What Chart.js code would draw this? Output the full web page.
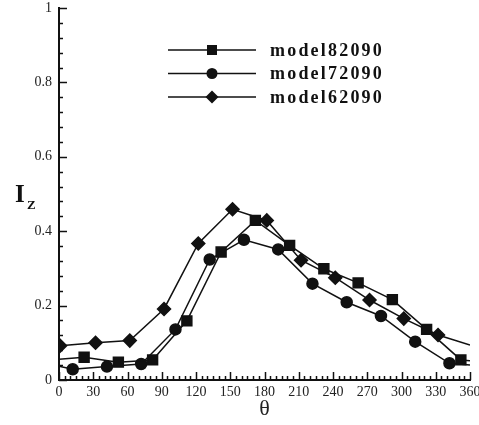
<!DOCTYPE html>
<html>
<head>
<meta charset="utf-8">
<script src="https://cdn.jsdelivr.net/npm/chart.js@4.4.1/dist/chart.umd.min.js"></script>
<style>
    html, body { margin: 0; padding: 0; background: #fff; }
    #wrap { width: 479px; height: 425px; position: relative; }
</style>
</head>
<body>
<div id="wrap"><canvas id="chart"></canvas></div>
<script>
// Data
const seriesNames = ['model82090', 'model72090', 'model62090'];

const theta82090 = [0, 22, 52, 82, 112, 142, 172, 202, 232, 262, 292, 322, 352, 360];
const iz82090 = [0.056, 0.061, 0.048, 0.054, 0.159, 0.344, 0.429, 0.362, 0.299, 0.261, 0.216, 0.136, 0.054, 0.052];

const theta72090 = [0, 12, 42, 72, 102, 132, 162, 192, 222, 252, 282, 312, 342, 360];
const iz72090 = [0.037, 0.029, 0.036, 0.043, 0.136, 0.324, 0.377, 0.351, 0.259, 0.209, 0.172, 0.103, 0.045, 0.040];

const theta62090 = [1, 32, 62, 92, 122, 152, 182, 212, 242, 272, 302, 332, 360];
const iz62090 = [0.092, 0.100, 0.106, 0.191, 0.367, 0.459, 0.429, 0.322, 0.275, 0.215, 0.165, 0.121, 0.094];

const xTicks = [0, 30, 60, 90, 120, 150, 180, 210, 240, 270, 300, 330, 360];
const yTicks = [0, 0.2, 0.4, 0.6, 0.8, 1];

const serif = "'Liberation Serif', 'DejaVu Serif', serif";

function toPoints(xs, ys) {
    return xs.map((x, i) => ({ x: x, y: ys[i] }));
}

// hide markers on the end points that only carry the line to the axis edge
function radii(xs, r) {
    return xs.map(x => (x === 0 || x === 360) ? 0 : r);
}

// inward tick marks, major and minor
const innerTicks = {
    id: 'innerTicks',
    afterDraw(chart) {
        const ctx = chart.ctx;
        const xs = chart.scales.x, ys = chart.scales.y;
        const area = chart.chartArea;
        ctx.save();
        ctx.strokeStyle = '#111';
        ctx.lineWidth = 1.5;
        for (let v = 0; v <= 360; v += 5) {
            const px = Math.round(xs.getPixelForValue(v)) + 0.5;
            const len = v % 30 === 0 ? 8 : 4;
            ctx.beginPath();
            ctx.moveTo(px, area.bottom);
            ctx.lineTo(px, area.bottom - len);
            ctx.stroke();
        }
        for (let i = 0; i <= 25; i++) {
            const v = i * 0.04;
            const py = Math.round(ys.getPixelForValue(v)) + 0.5;
            const len = i % 5 === 0 ? 8 : 4;
            ctx.beginPath();
            ctx.moveTo(area.left, py);
            ctx.lineTo(area.left + len, py);
            ctx.stroke();
        }
        ctx.restore();
    }
};

function drawMarker(ctx, style, x, y) {
    ctx.beginPath();
    if (style === 'rect') {
        ctx.rect(x - 5, y - 5, 10, 10);
    } else if (style === 'circle') {
        ctx.arc(x, y, 5.5, 0, Math.PI * 2);
    } else {
        ctx.moveTo(x, y - 6.5);
        ctx.lineTo(x + 6.5, y);
        ctx.lineTo(x, y + 6.5);
        ctx.lineTo(x - 6.5, y);
        ctx.closePath();
    }
    ctx.fill();
}

// legend inside the plot and the I_Z axis label
const extras = {
    id: 'extras',
    afterDraw(chart) {
        const ctx = chart.ctx;
        ctx.save();
        ctx.fillStyle = '#111';
        ctx.strokeStyle = '#111';
        ctx.lineWidth = 1.5;
        chart.data.datasets.forEach((ds, i) => {
            const y = 50 + i * 23.5;
            ctx.beginPath();
            ctx.moveTo(168, y);
            ctx.lineTo(256, y);
            ctx.stroke();
            drawMarker(ctx, ds.pointStyle, 212, y);
            ctx.font = 'bold 18px ' + serif;
            ctx.letterSpacing = '2.2px';
            ctx.textBaseline = 'middle';
            ctx.fillText(ds.label, 270, y + 1);
        });
        ctx.letterSpacing = '0px';
        ctx.font = 'bold 25px ' + serif;
        ctx.textBaseline = 'alphabetic';
        ctx.fillText('I', 15, 202);
        ctx.font = 'bold 13px ' + serif;
        ctx.fillText('Z', 27, 209);
        ctx.restore();
    }
};

const lineStyle = {
    showLine: true,
    borderColor: '#111',
    backgroundColor: '#111',
    pointBackgroundColor: '#111',
    pointBorderColor: '#111',
    borderWidth: 1.5,
    tension: 0
};

new Chart(document.getElementById('chart'), {
    type: 'scatter',
    data: {
        datasets: [
            Object.assign({}, lineStyle, {
                label: seriesNames[0],
                data: toPoints(theta82090, iz82090),
                pointStyle: 'rect',
                pointRadius: radii(theta82090, 7)
            }),
            Object.assign({}, lineStyle, {
                label: seriesNames[1],
                data: toPoints(theta72090, iz72090),
                pointStyle: 'circle',
                pointRadius: radii(theta72090, 5.5)
            }),
            Object.assign({}, lineStyle, {
                label: seriesNames[2],
                data: toPoints(theta62090, iz62090),
                pointStyle: 'rectRot',
                pointRadius: radii(theta62090, 6.5)
            })
        ]
    },
    options: {
        responsive: true,
        maintainAspectRatio: false,
        animation: false,
        layout: { padding: { top: 8, right: 9, left: 0, bottom: 0 } },
        plugins: {
            legend: { display: false },
            tooltip: { enabled: false }
        },
        scales: {
            x: {
                type: 'linear',
                min: 0,
                max: 360,
                afterBuildTicks: (scale) => { scale.ticks = xTicks.map(v => ({ value: v })); },
                afterFit: (scale) => {
                    scale.height = 45;
                    scale.paddingLeft = 0;
                    scale.paddingRight = 0;
                },
                grid: { display: false, drawTicks: false },
                border: { display: true, color: '#111', width: 2 },
                ticks: {
                    padding: 4,
                    maxRotation: 0,
                    autoSkip: false,
                    color: '#222',
                    font: { family: serif, size: 14 },
                    callback: (v) => String(v)
                },
                title: {
                    display: true,
                    text: 'θ',
                    color: '#222',
                    padding: { top: 0, bottom: 3 },
                    font: { family: serif, size: 22 }
                }
            },
            y: {
                type: 'linear',
                min: 0,
                max: 1,
                afterBuildTicks: (scale) => { scale.ticks = yTicks.map(v => ({ value: v })); },
                afterFit: (scale) => {
                    scale.width = 59;
                    scale.paddingTop = 0;
                    scale.paddingBottom = 0;
                },
                grid: { display: false, drawTicks: false },
                border: { display: true, color: '#111', width: 2 },
                ticks: {
                    padding: 7,
                    color: '#222',
                    font: { family: serif, size: 14 },
                    callback: (v) => String(Math.round(v * 10) / 10)
                }
            }
        }
    },
    plugins: [innerTicks, extras]
});
</script>
</body>
</html>
